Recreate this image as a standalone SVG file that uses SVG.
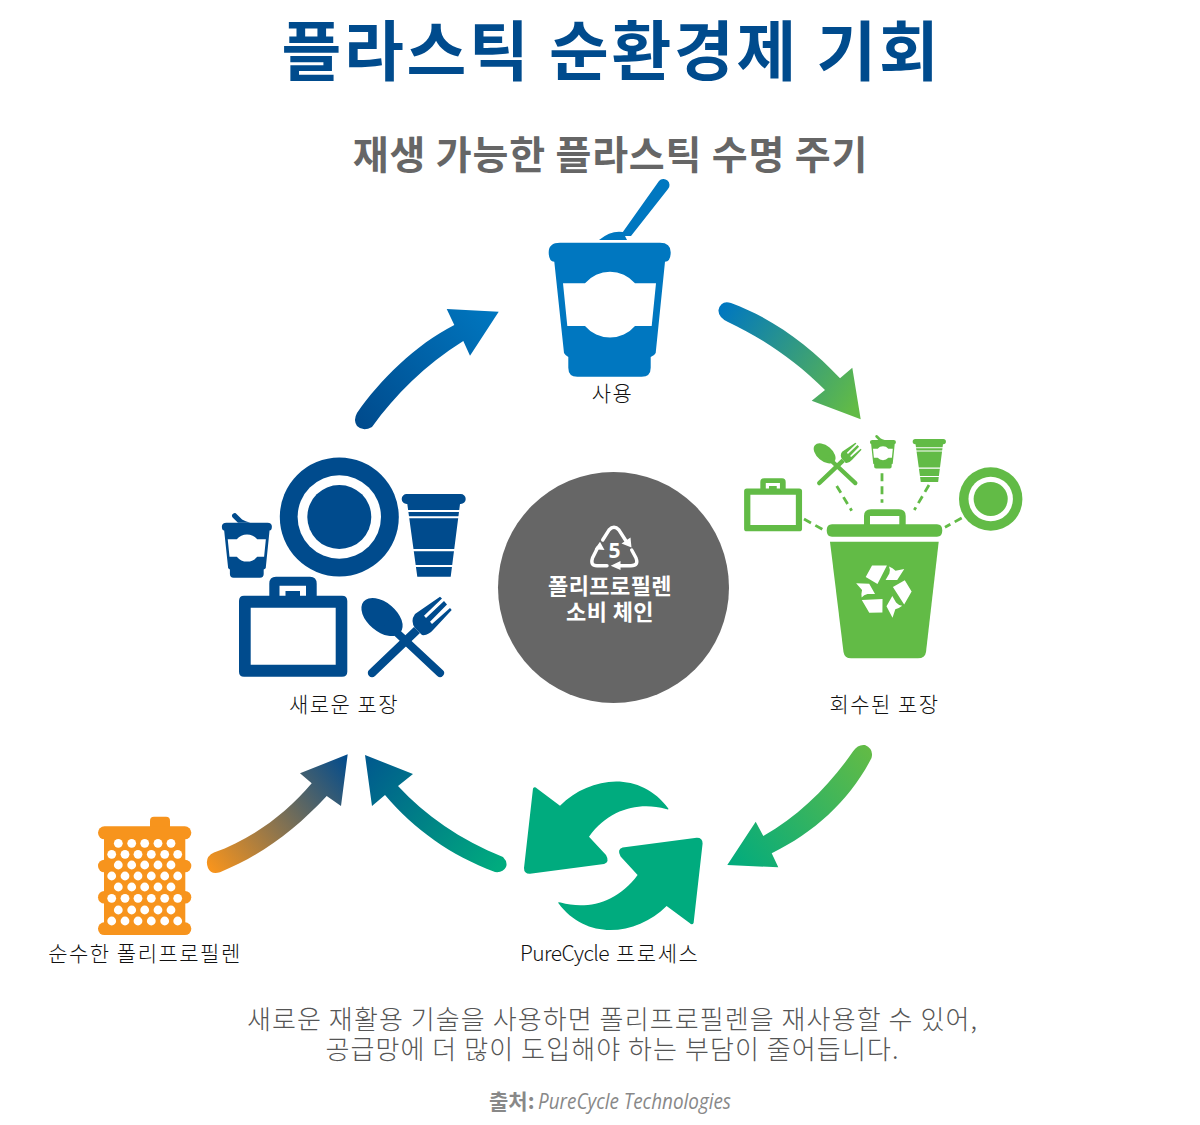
<svg xmlns="http://www.w3.org/2000/svg" xmlns:xlink="http://www.w3.org/1999/xlink" width="1200" height="1125" viewBox="0 0 1200 1125">
<style>
text{font-family:"Noto Sans CJK KR","Noto Sans",sans-serif;}
.title{font-size:65px;font-weight:700;fill:#004b8d;text-anchor:middle;letter-spacing:2.7px;}
.sub{font-size:39px;font-weight:700;fill:#666;text-anchor:middle;letter-spacing:.8px;}
.lab{font-size:21px;font-weight:300;fill:#111;text-anchor:middle;letter-spacing:1.5px;}
.cap{font-size:26px;font-weight:300;fill:#555;text-anchor:middle;letter-spacing:1.1px;}
.cw{font-size:22px;font-weight:700;fill:#fff;text-anchor:middle;letter-spacing:.4px;}
.dash{fill:none;stroke:#62bb46;stroke-width:2.800;stroke-dasharray:8 5;}
.w{fill:#fff;}
</style>
<defs>
<g id="cup">
<path d="M-50,-57.300H50Q60.700,-57.300 60.700,-47.800Q60.700,-38.300 55,-38.300L45.700,53Q45,55 40.700,57V67.700Q40.700,76.700 31.700,76.700H-32.700Q-41.700,76.700 -41.700,67.700V57Q-45,55 -46,53L-55.700,-38.300Q-61.300,-38.300 -61.300,-47.800Q-61.300,-57.300 -50,-57.300Z"/>
<path class="w" d="M-47,-16.700H-25A32.700,32.700 0 0 1 25,-16.700H46L41.700,26H25A32.700,32.700 0 0 1 -25,26H-42.700Z"/>
</g>
<path id="nub" d="M-22,-57.300L-35,-70A6,6 0 0 1 -25,-78L-12,-65Q-4,-60 8,-57.300Z"/>
<g id="tumbler">
<path d="M-27,-41H27A5,5 0 0 1 27,-31H26.300L17,41.700H-16.400L-26.400,-31H-27A5,5 0 0 1 -27,-41Z"/>
<path class="w" d="M-28,-25H28V-23H-28ZM-28,-18.700H28V-16.700H-28ZM-28,14H28V16.300H-28ZM-28,30H28V32H-28Z"/>
</g>
<g id="case">
<path fill-rule="evenodd" d="M-17,-50.300H17Q23.700,-50.300 23.700,-43.300V-31.300H49Q54.300,-31.300 54.300,-26V44.700Q54.300,49.700 49,49.700H-49Q-54,49.700 -54,44.700V-26Q-54,-31.300 -49,-31.300H-23.700V-43.300Q-23.700,-50.300 -17,-50.300ZM-42.300,-19.300V37.700H42.700V-19.300ZM-13.500,-41.300V-31.300H-7.500V-36H7V-31.300H13V-41.300Z"/>
</g>
<g id="utensils">
<ellipse cx="-26" cy="-20" rx="24" ry="14.500" transform="rotate(40 -26 -20)"/>
<path d="M-19,-17L34.700,33A4,4 0 0 1 29.300,39L-24,-11Z"/>
<path d="M6,-10L12,-4L-33,38.900A4,4 0 0 1 -39,33Z"/>
<path d="M7,-9Q2,-16 7,-23L32,-40.300L34,-38.500L16,-21.300L18,-19L36,-36L39,-32.500L22,-15.300L24,-13L42,-29L43.700,-27L26,-8Q20,-1 14,-2Z"/>
</g>
<g id="plate">
<circle r="59.500"/><circle r="41.700" class="w"/><circle r="32"/>
</g>
<g id="row5"><circle cx="118.300" r="4.400"/><circle cx="131.700" r="4.400"/><circle cx="144.700" r="4.400"/><circle cx="158" r="4.400"/><circle cx="171" r="4.400"/></g>
<g id="row6"><circle cx="111.700" r="4.400"/><circle cx="125" r="4.400"/><circle cx="138" r="4.400"/><circle cx="151.300" r="4.400"/><circle cx="164.700" r="4.400"/><circle cx="177.700" r="4.400"/></g>
<path id="rec" class="w" d="M-17.700,-12.300L-11.700,-23.300H2.500L-6.500,-5.700ZM4.500,-22.300Q8,-21 10.700,-18.300L19,-20L12.300,-9.500H1.200L4.800,-15.700Q6,-19 4.500,-22.300Z"/>
<path id="swirl" d="M533,788.500Q534.500,786 537,788.500L560,805.700C590,776 640,770 668.300,808.500Q669,810 666,809C640,802 610,808 589,836.700L606,855Q610,862 604,864L530,873.800Q524,874 524,868Z"/>
<linearGradient id="g1" gradientUnits="userSpaceOnUse" x1="360" y1="425" x2="498" y2="312"><stop offset="0" stop-color="#004b8d"/><stop offset="1" stop-color="#0077c0"/></linearGradient>
<linearGradient id="g2" gradientUnits="userSpaceOnUse" x1="720" y1="310" x2="860" y2="400"><stop offset="0" stop-color="#0077c0"/><stop offset="1" stop-color="#62bb46"/></linearGradient>
<linearGradient id="g3" gradientUnits="userSpaceOnUse" x1="870" y1="750" x2="727" y2="865"><stop offset="0" stop-color="#62bb46"/><stop offset="1" stop-color="#00ab7e"/></linearGradient>
<linearGradient id="g4" gradientUnits="userSpaceOnUse" x1="500" y1="865" x2="365" y2="755"><stop offset="0" stop-color="#00ab7e"/><stop offset="1" stop-color="#00588e"/></linearGradient>
<linearGradient id="g5" gradientUnits="userSpaceOnUse" x1="208" y1="866" x2="347" y2="755"><stop offset="0" stop-color="#f7941d"/><stop offset="1" stop-color="#004b8d"/></linearGradient>
</defs>
<rect width="1200" height="1125" fill="#fff"/>
<text class="title" x="611.500" y="75">플라스틱 순환경제 기회</text>
<text class="sub" x="610.500" y="169">재생 가능한 플라스틱 수명 주기</text>

<g id="connectors">
<path fill="url(#g1)" d="M454.300,325C415,345 380,380 357,413Q353,420 357,426Q363,432 372,427C395,395 425,365 463.300,341L470,355.700L498.700,311.700L446.700,309Z"/>
<path fill="url(#g2)" d="M731,303C772,318 810,346 840,378.300L852.300,367.700L860.700,419.300L811.700,400.700L825,390C795,360 762,338 728,322Q718,317 718.500,310Q721,300 731,303Z"/>
<path fill="url(#g3)" d="M871.500,758C850,800 815,832 771.700,853.300L778.300,867.300L727.300,865L755.700,821.700L763.300,836C800,815 830,785 853.300,751Q858,744 865,745Q874,749 871.500,758Z"/>
<path fill="url(#g4)" d="M495,872C450,855 415,830 385,795L372,806L365,755L413,774L398,786C425,815 460,840 503,857Q508,862 506,867Q503,873 495,872Z"/>
<path fill="url(#g5)" d="M214,852.500C250,840 285,815 311.700,783.300L300,773.300L347.700,754.300L341,806L326.700,796C295,830 262,855 220,872.300Q211,875 208,868Q204,857 214,852.500Z"/>
<path class="dash" d="M804,519L826.700,531.700M836.700,486L851.700,510.700M882,473.300V502.700M929,485L914.300,510M961.700,518L945,527.300"/>
</g>

<g id="node-use" fill="#0077c0">
<path d="M659,181A6,6 0 0 1 668,189L631,236H620ZM599,240Q611,230 623,232L627,240Z"/>
<use xlink:href="#cup" href="#cup" x="610" y="300"/>
<text class="lab" x="612.500" y="401">사용</text>
</g>

<g id="node-new" fill="#004b8d">
<g transform="translate(247,546.200) scale(.41)"><use xlink:href="#cup" href="#cup"/><use xlink:href="#nub" href="#nub"/></g>
<use xlink:href="#plate" href="#plate" x="339.300" y="517"/>
<use xlink:href="#tumbler" href="#tumbler" x="433.700" y="535"/>
<use xlink:href="#case" href="#case" x="293" y="627"/>
<use xlink:href="#utensils" href="#utensils" x="408" y="637"/>
<text class="lab" x="344" y="712">새로운 포장</text>
</g>

<g id="node-center">
<circle cx="613.500" cy="587.500" r="115.500" fill="#666"/>
<g fill="none" stroke="#fff" stroke-width="3.400" stroke-linecap="round">
<path d="M602.700,540L609,530Q614,524.500 619,530L626,541"/>
<path d="M597.500,548L592.500,558Q590,565.700 597,565.700H607"/>
<path d="M620,565.700H631Q639,565.700 636,558L631.700,550"/>
</g>
<path fill="#fff" d="M631.500,547.500L621.500,543.500L630.500,537.500ZM600,541.700L594.700,549.300L604.500,550ZM610.700,565.700L620.500,561V570Z"/>
<text x="614.500" y="558" text-anchor="middle" font-size="21" font-weight="700" fill="#fff" style="font-family:'Noto Sans',sans-serif">5</text>
<text class="cw" x="610" y="594">폴리프로필렌</text>
<text class="cw" x="610" y="620">소비 체인</text>
</g>

<g id="node-recovered" fill="#62bb46">
<g transform="translate(773,505) scale(.535 .53)"><use xlink:href="#case" href="#case"/></g>
<g transform="translate(838.400,464) scale(.53)"><use xlink:href="#utensils" href="#utensils"/></g>
<g transform="translate(883,452.200) scale(.213)"><use xlink:href="#cup" href="#cup"/><use xlink:href="#nub" href="#nub"/></g>
<g transform="translate(929.300,460.300) scale(.52)"><use xlink:href="#tumbler" href="#tumbler"/></g>
<g transform="translate(990.700,499) scale(.533)"><use xlink:href="#plate" href="#plate"/></g>
<path fill-rule="evenodd" d="M871,509.300H899Q905.700,509.300 905.700,516V524.300H937Q942.300,524.300 942.300,530.500Q942.300,536.700 937,536.700H832Q826.700,536.700 826.700,530.500Q826.700,524.300 832,524.300H864V516Q864,509.300 871,509.300ZM870,516V524.300H899.300V516Z"/>
<path d="M830,541.700H938.700L926,652Q925,658.300 918,658.300H851Q844.500,658.300 843.500,652Z"/>
<g transform="translate(884.300,590) scale(1.050)"><use xlink:href="#rec" href="#rec"/><use xlink:href="#rec" href="#rec" transform="rotate(120)"/><use xlink:href="#rec" href="#rec" transform="rotate(240)"/></g>
<text class="lab" x="884.500" y="712">회수된 포장</text>
</g>

<g id="node-process" fill="#00ab7e">
<use xlink:href="#swirl" href="#swirl"/>
<use xlink:href="#swirl" href="#swirl" transform="rotate(180 613.300 855.800)"/>
<text class="lab" x="520" y="961" style="text-anchor:start"><tspan letter-spacing="-.6">PureCycle</tspan><tspan x="616">프로세스</tspan></text>
</g>

<g id="node-virgin" fill="#f7941d">
<rect x="150" y="816.700" width="20" height="14" rx="4"/>
<rect x="104" y="830" width="81.300" height="100"/>
<rect x="98" y="826.300" width="93.300" height="13" rx="6.500"/>
<rect x="98" y="859.700" width="93.300" height="12.600" rx="6.300"/>
<rect x="98" y="891" width="93.300" height="12.600" rx="6.300"/>
<rect x="98" y="922.300" width="93.300" height="12.700" rx="6.300"/>
<g fill="#fff">
<use xlink:href="#row5" href="#row5" y="843.300"/><use xlink:href="#row6" href="#row6" y="854.300"/>
<use xlink:href="#row5" href="#row5" y="865"/><use xlink:href="#row6" href="#row6" y="876"/>
<use xlink:href="#row5" href="#row5" y="887"/><use xlink:href="#row6" href="#row6" y="898.300"/>
<use xlink:href="#row5" href="#row5" y="910"/><use xlink:href="#row6" href="#row6" y="921"/>
</g>
<text class="lab" x="145" y="961">순수한 폴리프로필렌</text>
</g>

<text class="cap" x="612.500" y="1029">새로운 재활용 기술을 사용하면 폴리프로필렌을 재사용할 수 있어,</text>
<text class="cap" x="612.500" y="1059">공급망에 더 많이 도입해야 하는 부담이 줄어듭니다.</text>
<text x="489" y="1109" font-size="21" font-weight="700" fill="#888">출처:</text>
<text x="538" y="1109" font-size="22" font-style="italic" fill="#888" textLength="193" lengthAdjust="spacingAndGlyphs" style="font-family:'Open Sans',sans-serif">PureCycle Technologies</text>
</svg>
